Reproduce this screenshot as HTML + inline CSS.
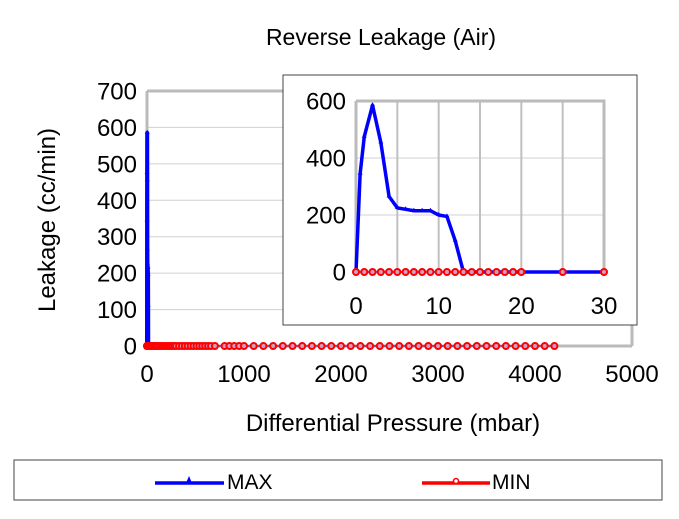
<!DOCTYPE html>
<html><head><meta charset="utf-8"><style>
body{margin:0;background:#fff;width:679px;height:514px;overflow:hidden;font-family:"Liberation Sans",sans-serif}
</style></head><body>
<svg id="c" width="679" height="514" xmlns="http://www.w3.org/2000/svg" font-family="Liberation Sans, sans-serif">
<text x="381" y="45" font-size="23" text-anchor="middle">Reverse Leakage (Air)</text>
<g id="main"></g>
<text x="393" y="431" font-size="24" text-anchor="middle">Differential Pressure (mbar)</text>
<text transform="translate(55,220) rotate(-90)" font-size="24" text-anchor="middle">Leakage (cc/min)</text>
<rect x="283" y="75" width="354" height="250" fill="#fff" stroke="#444" stroke-width="1"/>
<g id="inset"></g>
<g>
<rect x="14" y="460" width="648" height="40" fill="#fff" stroke="#444"/>
<g>
<line x1="155" y1="483" x2="224" y2="483" stroke="#0000ff" stroke-width="3.5"/>
<path d="M186,483 L189,476 L192,483Z" fill="#0000ff"/>
<text x="227" y="489" font-size="21">MAX</text></g>
<g>
<line x1="422" y1="483" x2="490" y2="483" stroke="#ff0000" stroke-width="3.5"/>
<circle cx="456" cy="481" r="2.5" fill="#fff" stroke="#ff0000" stroke-width="1.5"/>
<text x="492" y="489" font-size="21">MIN</text></g>
</g>
</svg>
<script>
const maxX=[0,0.5,1,2,3,4,5,6,7,8,9,10,11,12,13,14,15,16,17,18,19,20,25,30];
const maxY=[0,345,475,585,455,265,225,220,215,215,215,200,195,110,0,0,0,0,0,0,0,0,0,0];
const minX=[0,1,2,3,4,5,6,7,8,9,10,11,12,13,14,15,16,17,18,19,20,25,30,40,50,60,70,80,90,100,120,140,160,180,200,220,240,260,280,300,330,360,390,420,450,480,510,540,570,600,630,660,700,800,850,900,950,1000,1100,1200,1300,1400,1500,1600,1700,1800,1900,2000,2100,2200,2300,2400,2500,2600,2700,2800,2900,3000,3100,3200,3300,3400,3500,3600,3700,3800,3900,4000,4100,4200];
const minY=minX.map(()=>0);
const mainXTicks=[0,1000,2000,3000,4000,5000];
const mainYTicks=[0,100,200,300,400,500,600,700];
const insetXTicks=[0,5,10,15,20,25,30];
const insetXLabels=[0,10,20,30];
const insetYTicks=[0,200,400,600];
const NS="http://www.w3.org/2000/svg";
function mk(p,t,a){const e=document.createElementNS(NS,t);for(const k in a)e.setAttribute(k,a[k]);p.appendChild(e);return e;}
function draw(g,o){
 const sx=v=>o.x0+(v-o.xmin)/(o.xmax-o.xmin)*(o.x1-o.x0);
 const sy=v=>o.y0-(v-o.ymin)/(o.ymax-o.ymin)*(o.y0-o.y1);
 o.yTicks.forEach(v=>{const l=mk(g,'line',{x1:o.x0,x2:o.x1,y1:sy(v),y2:sy(v),stroke:'#d0d0d0','stroke-width':1});
 
 
 const t=mk(g,'text',{x:o.x0-10,y:sy(v)+8.5,'font-size':o.fs,'text-anchor':'end'});t.textContent=v;
 
 });
 if(o.vgrid)o.xTicks.forEach(v=>{const l=mk(g,'line',{x1:sx(v),x2:sx(v),y1:o.y0,y2:o.y1,stroke:'#c0c0c0','stroke-width':2});
 
 });
 const f=mk(g,'path',{d:`M${o.x0},${o.y1}H${o.x1}V${o.y0}`,fill:'none',stroke:'#bbb','stroke-width':3});
 
 
 const ax=mk(g,'path',{d:`M${o.x0},${o.y1}V${o.y0}H${o.x1}`,fill:'none',stroke:'#bbb','stroke-width':3});
 
 
 o.xLabels.forEach(v=>{const t=mk(g,'text',{x:sx(v),y:o.y0+o.lx,'font-size':o.fs,'text-anchor':'middle'});t.textContent=v;
 
 });
 const pts=minX.filter(x=>x<=o.xmax);
 const np=mk(g,'polyline',{points:pts.map((x,i)=>sx(x)+','+sy(minY[i])).join(' '),fill:'none',stroke:'#7a2a8a','stroke-width':1.5});
 
 
 const mp=mk(g,'polyline',{points:maxX.map((x,i)=>sx(x)+','+sy(maxY[i])).join(' '),fill:'none',stroke:'#0000ff','stroke-width':o.lw,'stroke-linejoin':'round'});
 
 
 maxX.forEach((x,i)=>{const m=mk(g,'path',{d:`M${sx(x)-2.5},${sy(maxY[i])+1}L${sx(x)},${sy(maxY[i])-3}L${sx(x)+2.5},${sy(maxY[i])+1}Z`,fill:'#0000ff'});
 
 });
 pts.forEach((x,i)=>{const c=mk(g,'circle',{cx:sx(x),cy:sy(minY[i]),r:3,fill:'#c8a0c8',stroke:'#ff0000','stroke-width':2});
 
 });
}
draw(document.getElementById('main'),{x0:147,x1:632,y0:346,y1:91,xmin:0,xmax:5000,ymin:0,ymax:700,xTicks:mainXTicks,xLabels:mainXTicks,yTicks:mainYTicks,fs:24,lx:36,vgrid:false,lw:4});
draw(document.getElementById('inset'),{x0:356,x1:604,y0:272,y1:101,xmin:0,xmax:30,ymin:0,ymax:600,xTicks:insetXTicks,xLabels:insetXLabels,yTicks:insetYTicks,fs:24,lx:42,vgrid:true,lw:3.5});
</script>
</body></html>
